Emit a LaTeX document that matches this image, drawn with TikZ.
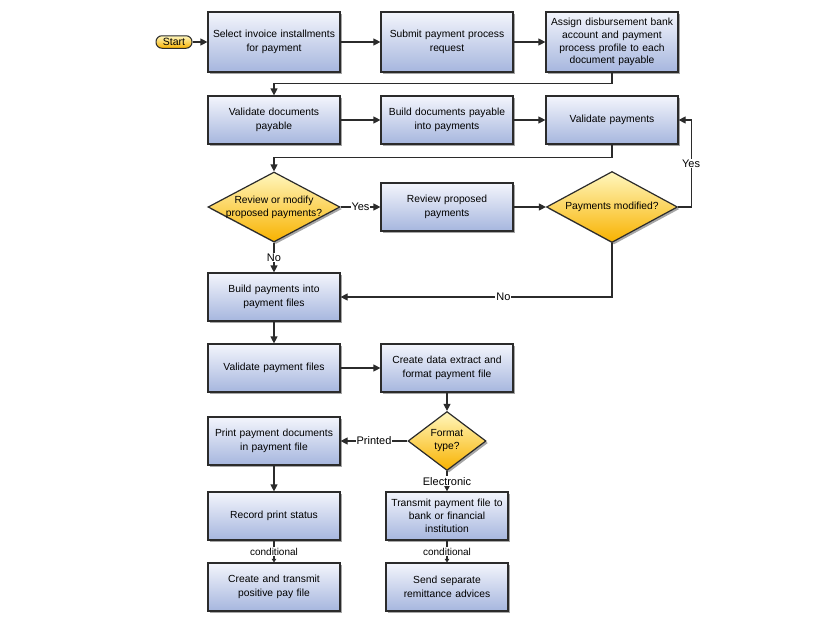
\documentclass[tikz,border=0pt]{standalone}
\usepackage{fontspec}
\setmainfont{Liberation Sans}
\usetikzlibrary{shapes,arrows.meta,shadows}

\definecolor{boxtop}{HTML}{F3F5FC}
\definecolor{boxbot}{HTML}{A6B6DE}
\definecolor{dectop}{HTML}{FFF7BE}
\definecolor{decbot}{HTML}{F8B200}
\definecolor{linecol}{HTML}{2B2B2B}

\tikzset{
  stepbox/.style={rectangle, draw=linecol, line width=1.2pt,
    top color=boxtop, bottom color=boxbot,
    minimum width=132pt, minimum height=48pt, text width=126pt,
    inner sep=2pt, align=center, font=\fontsize{10.3}{13.5}\selectfont,
    drop shadow={shadow xshift=2pt, shadow yshift=-2pt, fill=black, opacity=0.35}},
  query/.style={diamond, draw=linecol, line width=1.2pt, inner sep=0pt,
    top color=dectop, bottom color=decbot,
    drop shadow={shadow xshift=2pt, shadow yshift=-2pt, fill=black, opacity=0.35}},
  qtext/.style={align=center, font=\fontsize{10.3}{13}\selectfont},
  startpill/.style={rectangle, rounded corners=6pt, draw=linecol, line width=1pt,
    top color=dectop, bottom color=decbot, minimum width=36pt, minimum height=12.5pt,
    inner sep=0pt, font=\fontsize{10.5}{11}\selectfont},
  flow/.style={draw=linecol, line width=1.2pt, -{Triangle[length=7pt,width=7pt]}},
  cond/.style={draw=linecol, line width=1.2pt, -{Triangle[length=3.5pt,width=4.5pt]}},
  answer/.style={fill=white, inner sep=1pt, font=\fontsize{11}{13}\selectfont},
  condtext/.style={fill=white, inner sep=1pt, font=\fontsize{10}{12}\selectfont}
}

\begin{document}
\begin{tikzpicture}[x=1pt,y=-1pt]
\fill[white] (0,0) rectangle (840,624);
\useasboundingbox (0,0) rectangle (840,624);

% first row
\node[startpill] (start) at (174,42) {Start};
\node[stepbox, minimum height=60pt] (select) at (274,42) {Select invoice installments\\for payment};
\node[stepbox, minimum height=60pt] (submit) at (447,42) {Submit payment process\\request};
\node[stepbox, minimum height=60pt, font=\fontsize{10.3}{12.8}\selectfont] (assign) at (612,42) {Assign disbursement bank\\account and payment\\process profile to each\\document payable};

% second row
\node[stepbox] (checkdocs) at (274,120) {Validate documents\\payable};
\node[stepbox] (builddocs) at (447,120) {Build documents payable\\into payments};
\node[stepbox] (checkpay) at (612,120) {Validate payments};

% review loop
\node[query, minimum width=132pt, minimum height=70pt,
  label={[qtext]center:Review or modify\\proposed payments?}] (review) at (274,207) {};
\node[stepbox] (propose) at (447,207) {Review proposed\\payments};
\node[query, minimum width=131pt, minimum height=71pt,
  label={[qtext]center:Payments modified?}] (modified) at (612,207) {};

% payment files
\node[stepbox] (buildfiles) at (274,297) {Build payments into\\payment files};
\node[stepbox] (checkfiles) at (274,368) {Validate payment files};
\node[stepbox] (extract) at (447,368) {Create data extract and\\format payment file};
\node[query, minimum width=78pt, minimum height=59pt,
  label={[qtext]center:Format\\type?}] (format) at (447,441) {};

% printed branch
\node[stepbox] (printdocs) at (274,441) {Print payment documents\\in payment file};
\node[stepbox] (record) at (274,516) {Record print status};
\node[stepbox] (positive) at (274,587) {Create and transmit\\positive pay file};

% electronic branch
\node[stepbox, minimum width=121pt, text width=118pt, font=\fontsize{10.3}{12.8}\selectfont] (transmit) at (447,516) {Transmit payment file to\\bank or financial\\institution};
\node[stepbox, minimum width=121pt, text width=118pt] (remit) at (447,587) {Send separate\\remittance advices};

% connectors
\draw[flow] (start) -- (select);
\draw[flow] (select) -- (submit);
\draw[flow] (submit) -- (assign);
\draw[flow] (assign.south) -- ++(0,11) -| (checkdocs.north);
\draw[flow] (checkdocs) -- (builddocs);
\draw[flow] (builddocs) -- (checkpay);
\draw[flow] (checkpay.south) -- ++(0,13) -| (review.north);
\draw[flow] (review.east) -- node[answer]{Yes} (propose.west);
\draw[flow] (propose.east) -- (modified.west);
\draw[flow] (modified.east) -- ++(13,0) |- node[answer,pos=0.25]{Yes} (checkpay.east);
\draw[flow] (modified.south) |- node[answer,pos=0.7]{No} (buildfiles.east);
\draw[flow] (review.south) -- node[answer]{No} (buildfiles.north);
\draw[flow] (buildfiles) -- (checkfiles);
\draw[flow] (checkfiles) -- (extract);
\draw[flow] (extract.south) -- (format.north);
\draw[flow] (format.west) -- node[answer]{Printed} (printdocs.east);
\draw[flow] (format.south) -- node[answer]{Electronic} (transmit.north);
\draw[flow] (printdocs) -- (record);
\draw[cond] (record) -- node[condtext]{conditional} (positive);
\draw[cond] (transmit) -- node[condtext]{conditional} (remit);
\end{tikzpicture}
\end{document}
